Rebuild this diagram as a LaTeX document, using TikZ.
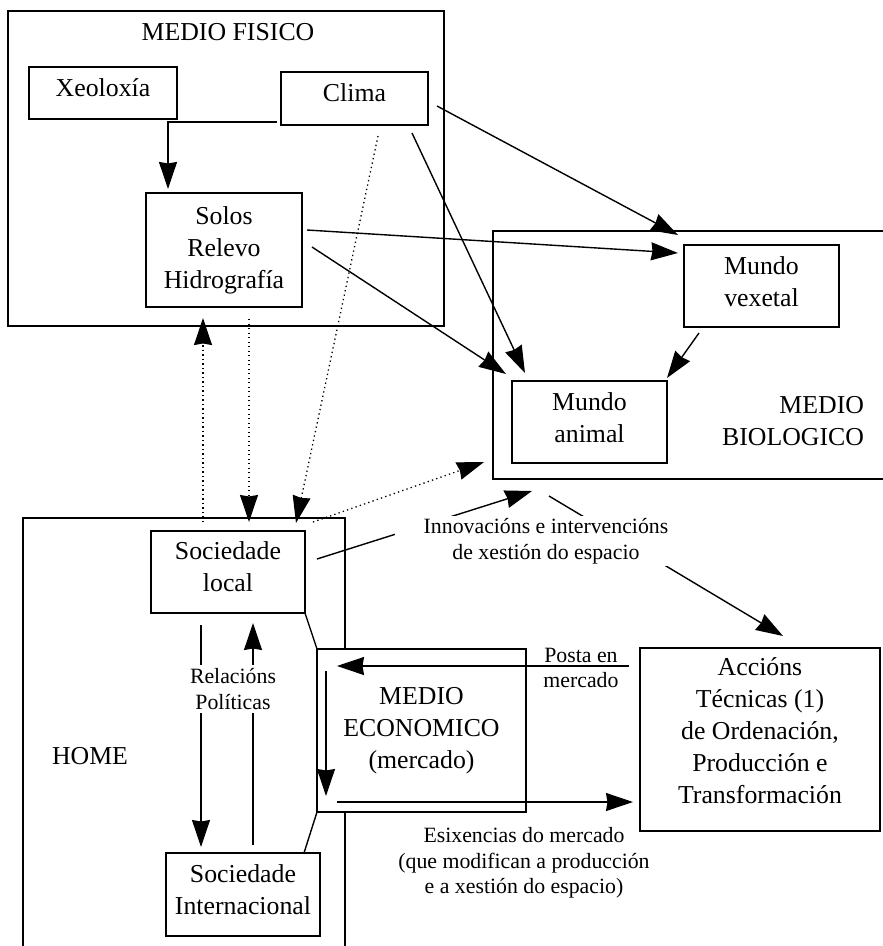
\documentclass[tikz,border=0pt]{standalone}
\usepackage{fontspec}
\setmainfont{Liberation Serif}
\usetikzlibrary{arrows.meta}
\newcommand\mainf{\fontsize{25.8}{32}\selectfont}
\newcommand\labf{\fontsize{21.8}{25.5}\selectfont}
\newcommand\lowstrut[1][10pt]{\rule[-#1]{0pt}{#1}}
\begin{document}
\begin{tikzpicture}[x=1pt,y=-1pt,
  every node/.style={inner sep=0pt, outer sep=0pt},
  box/.style={draw, line width=1.5pt, rectangle, align=center, font=\mainf},
  ttl/.style={font=\mainf, align=center},
  lab/.style={font=\labf, align=center},
  ln/.style={line width=1.4pt},
  tip/.style={-{Stealth[length=27pt,width=18pt,inset=1.5pt]}},
  arr/.style={line width=1.4pt, tip},
  dotarr/.style={line width=1.3pt, dash pattern=on 1.3pt off 3.2pt, tip}
]
\useasboundingbox (0,0) rectangle (883,946);
\clip (0,0) rectangle (883,946);
\fill[white] (0,0) rectangle (883,946);

% big frames
\node[box, minimum width=436pt, minimum height=315pt] (fisico) at (226,168.5) {};
\node[ttl] (fisicot) at (228,32) {MEDIO FISICO};
\node[box, minimum width=412pt, minimum height=248pt] (bio) at (699,355) {};
\node[ttl, align=right, anchor=east] (biot) at (864,421) {MEDIO\\BIOLOGICO};
\node[box, minimum width=322pt, minimum height=462pt] (home) at (184,749) {};
\node[ttl] (homet) at (90,756) {HOME};

% boxes
\node[box, minimum width=148pt, minimum height=52pt] (xeo) at (103,93) {Xeoloxía\lowstrut};
\node[box, minimum width=147pt, minimum height=53pt] (clima) at (354.5,98.5) {Clima\lowstrut[12pt]};
\node[box, minimum width=156pt, minimum height=114pt] (solos) at (224,250) {Solos\\Relevo\\Hidrografía};
\node[box, minimum width=155pt, minimum height=82pt] (vexetal) at (761.5,286) {Mundo\\vexetal\lowstrut[9pt]};
\node[box, minimum width=155pt, minimum height=82pt] (animal) at (589.5,422) {Mundo\\animal\lowstrut[9pt]};
\node[box, minimum width=154pt, minimum height=82pt] (soclocal) at (228,572) {Sociedade\\local\lowstrut};
\node[box, minimum width=154pt, minimum height=83pt] (socint) at (243,894.5) {Sociedade\\Internacional\lowstrut};
\node[box, minimum width=240pt, minimum height=183pt] (accions) at (760,739.5) {Accións\\Técnicas (1)\\de Ordenación,\\Producción e\\Transformación\lowstrut[17pt]};

% economic environment (covers the HOME frame)
\node[box, fill=white, minimum width=209pt, minimum height=163pt] (econ) at (421.5,730.5) {MEDIO\\ECONOMICO\\(mercado)};
\draw[ln] (soclocal.south east) -- (econ.north west);
\draw[ln] (econ.south west) -- ([xshift=-16pt]socint.north east);

% physical environment arrows
\draw[arr] ([shift={(-4,-3)}]clima.south west) -| ([shift={(22,-4)}]solos.north west);
\draw[arr] ([shift={(9,7.5)}]clima.east) -- ([shift={(-6,-10)}]vexetal.north west);
\draw[arr] ([shift={(-16,8)}]clima.south east) -- ([shift={(13,-8)}]animal.north west);
\draw[arr] ([shift={(5,-20)}]solos.east) -- ([shift={(-6,8)}]vexetal.north west);
\draw[arr] ([shift={(10,-3)}]solos.east) -- ([shift={(-6,-7)}]animal.north west);
\draw[arr] ([shift={(15,6)}]vexetal.south west) -- ([shift={(0,-3)}]animal.north east);

% dotted arrows
\draw[dotarr] ([shift={(52,-9)}]soclocal.north west) -- ([shift={(57,11)}]solos.south west);
\draw[dotarr] ([shift={(103,12)}]solos.south west) -- ([shift={(98,-9)}]soclocal.north west);
\draw[dotarr] ([shift={(97,11)}]clima.south west) -- ([shift={(-9,-8)}]soclocal.north east);
\draw[dotarr] ([shift={(8,-9)}]soclocal.north east) -- ([shift={(-9,-17)}]bio.south west);

% innovations
\draw[arr] ([shift={(12,-13)}]soclocal.east) -- ([shift={(39,12)}]bio.south west);
\draw[arr] ([shift={(56,17)}]bio.south west) -- ([shift={(143,-12)}]accions.north west);
\node[lab, fill=white, inner xsep=29pt, inner ysep=2pt] (innov) at (546,541) {Innovacións e intervencións\\de xestión do espacio};

% political relations
\draw[arr] ([shift={(50,12)}]soclocal.south west) -- ([shift={(35,-6)}]socint.north west);
\draw[arr] ([shift={(87,-8)}]socint.north west) -- ([shift={(102,10)}]soclocal.south west);
\node[lab, fill=white, inner xsep=2pt, inner ysep=4pt] (relac) at (233,689) {Relacións\\Políticas};

% market
\draw[arr] ([shift={(-11,18)}]accions.north west) -- ([shift={(20,17)}]econ.north west);
\node[lab] (posta) at (581,668) {Posta en\\mercado};
\draw[arr] ([shift={(9,22)}]econ.north west) -- ([shift={(9,-16)}]econ.south west);
\draw[arr] ([shift={(20,-10)}]econ.south west) -- ([shift={(-7,-29)}]accions.south west);
\node[lab] (esix) at (524,863) {Esixencias do mercado\\(que modifican a producción\\e a xestión do espacio)};
\end{tikzpicture}
\end{document}
